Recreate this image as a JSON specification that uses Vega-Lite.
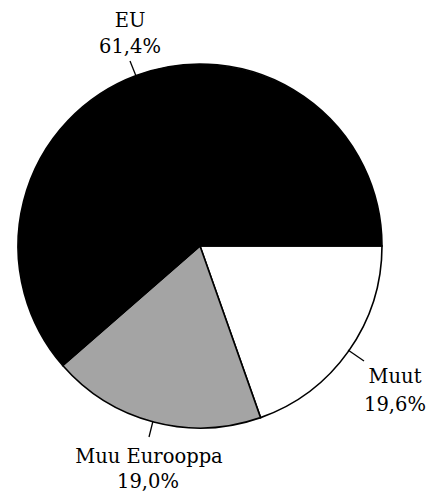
{
  "$schema": "https://vega.github.io/schema/vega-lite/v6.json",
  "width": 400,
  "height": 492,
  "autosize": {"type": "none"},
  "padding": {"left": 0, "top": 0, "right": 35, "bottom": 0},
  "background": "white",
  "config": {"view": {"stroke": null}},
  "layer": [
    {
      "data": {"values": [
        {"region": "Muut", "share": 19.6, "rank": 1},
        {"region": "Muu Eurooppa", "share": 19.0, "rank": 2},
        {"region": "EU", "share": 61.4, "rank": 3}
      ]},
      "mark": {"type": "arc", "outerRadius": 182, "stroke": "black", "strokeWidth": 1.6},
      "encoding": {
        "theta": {"field": "share", "type": "quantitative", "stack": true, "scale": {"range": [1.5708, 7.854]}},
        "order": {"field": "rank", "type": "quantitative"},
        "color": {"field": "region", "type": "nominal", "legend": null,
          "scale": {"domain": ["Muut", "Muu Eurooppa", "EU"], "range": ["#ffffff", "#a4a4a4", "#000000"]}}
      }
    },
    {
      "data": {"values": [
        {"x": -70, "y": 185, "x2": -64, "y2": 170},
        {"x": 148, "y": -104, "x2": 164, "y2": -115},
        {"x": -47, "y": -175, "x2": -51, "y2": -191}
      ]},
      "mark": {"type": "rule", "color": "black", "strokeWidth": 1.3},
      "encoding": {
        "x": {"field": "x", "type": "quantitative", "axis": null, "scale": {"domain": [-200, 200]}},
        "y": {"field": "y", "type": "quantitative", "axis": null, "scale": {"domain": [-246, 246]}},
        "x2": {"field": "x2"},
        "y2": {"field": "y2"}
      }
    },
    {
      "data": {"values": [
        {"label": "EU", "x": -70, "y": 219},
        {"label": "61,4%", "x": -70, "y": 193},
        {"label": "Muut", "x": 195, "y": -137},
        {"label": "19,6%", "x": 195, "y": -165},
        {"label": "Muu Eurooppa", "x": -51, "y": -217},
        {"label": "19,0%", "x": -52, "y": -242}
      ]},
      "mark": {"type": "text", "font": "DejaVu Serif", "fontSize": 19.5, "align": "center", "baseline": "alphabetic", "color": "black"},
      "encoding": {
        "x": {"field": "x", "type": "quantitative", "axis": null, "scale": {"domain": [-200, 200]}},
        "y": {"field": "y", "type": "quantitative", "axis": null, "scale": {"domain": [-246, 246]}},
        "text": {"field": "label"}
      }
    }
  ]
}
